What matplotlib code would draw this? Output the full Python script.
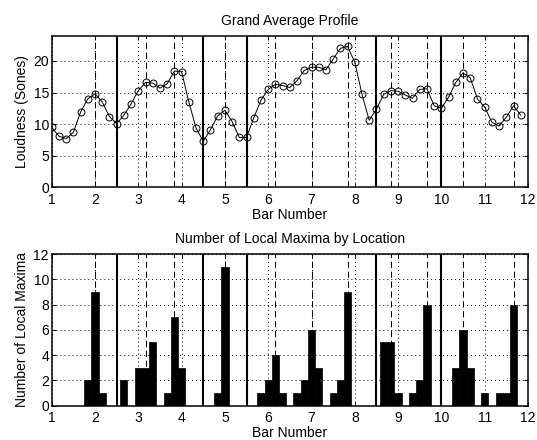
import matplotlib
matplotlib.use("Agg")
import matplotlib.pyplot as plt

plt.rcParams['font.family'] = ['Liberation Sans', 'DejaVu Sans']

# ---- data ----
beat_pos = [1.0, 1.167, 1.333, 1.5, 1.667, 1.833,
            2.0, 2.167, 2.333, 2.5, 2.667, 2.833,
            3.0, 3.167, 3.333, 3.5, 3.667, 3.833,
            4.0, 4.167, 4.333, 4.5, 4.667, 4.833,
            5.0, 5.167, 5.333, 5.5, 5.667, 5.833,
            6.0, 6.167, 6.333, 6.5, 6.667, 6.833,
            7.0, 7.167, 7.333, 7.5, 7.667, 7.833,
            8.0, 8.167, 8.333, 8.5, 8.667, 8.833,
            9.0, 9.167, 9.333, 9.5, 9.667, 9.833,
            10.0, 10.167, 10.333, 10.5, 10.667, 10.833,
            11.0, 11.167, 11.333, 11.5, 11.667, 11.833]
loudness = [9.5, 8.1, 7.7, 8.7, 11.9, 14.0,
            14.8, 13.5, 11.2, 10.1, 11.4, 13.2,
            15.3, 16.6, 16.5, 15.7, 16.4, 18.4,
            18.3, 13.5, 9.4, 7.3, 9.1, 11.3,
            12.2, 10.4, 7.9, 7.9, 11.0, 13.8,
            15.5, 16.3, 16.1, 15.8, 16.9, 18.5,
            19.0, 19.0, 18.6, 20.3, 22.0, 22.3,
            19.8, 14.7, 10.6, 12.4, 14.7, 15.3,
            15.2, 14.6, 14.1, 15.5, 15.6, 12.9,
            12.5, 14.3, 16.6, 18.1, 17.3, 14.0,
            12.7, 10.3, 9.7, 11.1, 12.9, 11.4]

maxima_pos = [1.833, 2.0, 2.167, 2.667, 3.0, 3.167, 3.333, 3.667, 3.833, 4.0,
              4.833, 5.0, 5.833, 6.0, 6.167, 6.333, 6.667, 6.833, 7.0, 7.167,
              7.5, 7.667, 7.833, 8.667, 8.833, 9.0, 9.333, 9.5, 9.667,
              10.333, 10.5, 10.667, 11.0, 11.333, 11.5, 11.667]
maxima_count = [2, 9, 1, 2, 3, 3, 5, 1, 7, 3,
                1, 11, 1, 2, 4, 1, 1, 2, 6, 3,
                1, 2, 9, 5, 5, 1, 1, 2, 8,
                3, 6, 3, 1, 1, 1, 8]

phrase_bounds = [2.5, 4.5, 5.5, 8.5, 10.0]
peak_marks = [2.0, 3.167, 3.833, 5.0, 6.167, 7.0, 7.833, 8.833, 9.667, 10.5, 11.667]

x_ticks = [1, 2, 3, 4, 5, 6, 7, 8, 9, 10, 11, 12]
top_yticks = [0, 5, 10, 15, 20]
bot_yticks = [0, 2, 4, 6, 8, 10, 12]

# ---- figure ----
fig = plt.figure(figsize=(5.37, 4.40), dpi=100)
W, H = 537, 440
ax1 = fig.add_axes([51.7 / W, 1 - 187.3 / H, (528 - 51.7) / W, (187.3 - 35.7) / H])
ax2 = fig.add_axes([51.7 / W, 1 - 405.7 / H, (528 - 51.7) / W, (405.7 - 254) / H])

FS = 10
dot_style = (0, (1, 3.1))
dash_style = (0, (6, 3.5))

def style_axes(ax, yticks, ylim, ylabel, title):
    ax.set_xlim(1, 12)
    ax.set_ylim(*ylim)
    ax.set_xticks(x_ticks)
    ax.set_yticks(yticks)
    ax.tick_params(direction='in', top=True, right=True, length=3, width=0.7,
                   labelsize=FS, pad=2)
    ax.tick_params(axis='x', pad=4)
    for s in ax.spines.values():
        s.set_linewidth(1.1)
    ax.grid(True, color='black', linestyle=dot_style, linewidth=0.7)
    ax.set_axisbelow(True)
    ax.set_xlabel('Bar Number', fontsize=FS, labelpad=0.5)
    ax.set_ylabel(ylabel, fontsize=FS, labelpad=3)
    ax.set_title(title, fontsize=FS, pad=8)
    for b in phrase_bounds:
        ax.axvline(b, color='black', linewidth=1.5, zorder=4)

# top
style_axes(ax1, top_yticks, (0, 24), 'Loudness (Sones)', 'Grand Average Profile')
for p in peak_marks:
    ax1.axvline(p, color='black', linestyle=dash_style, linewidth=0.75, zorder=2)
ax1.plot(beat_pos, loudness, color='black', linewidth=0.7, marker='o',
         markersize=5, markerfacecolor='none', markeredgewidth=0.7, zorder=5)

# bottom
style_axes(ax2, bot_yticks, (0, 12), 'Number of Local Maxima',
           'Number of Local Maxima by Location')
for p in peak_marks:
    ax2.axvline(p, color='black', linestyle=dash_style, linewidth=0.75, zorder=2)
ax2.bar(maxima_pos, maxima_count, width=1 / 6, color='black', edgecolor='black',
        linewidth=0.5, zorder=3)

fig.savefig('out.png', dpi=100)
